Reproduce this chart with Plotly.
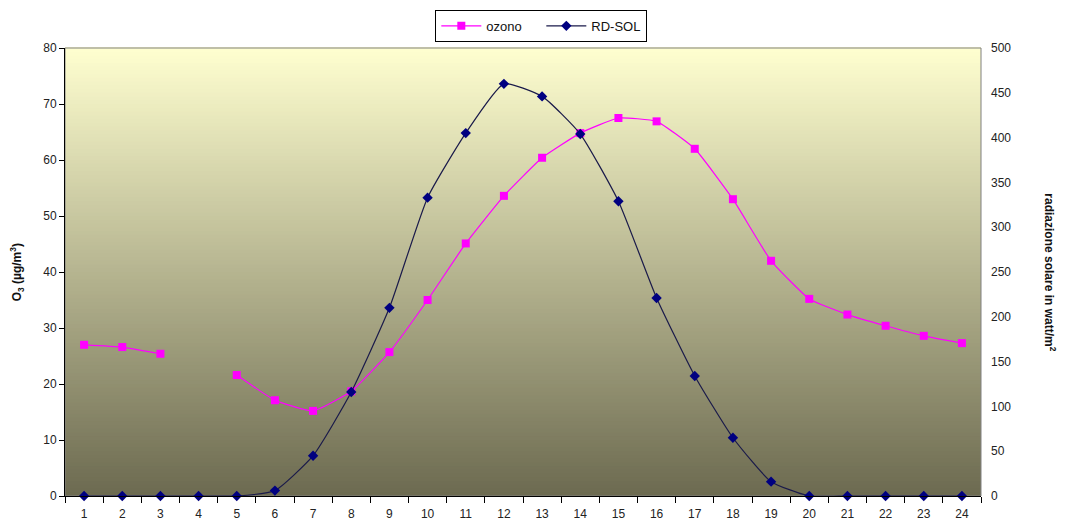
import plotly.graph_objects as go

hours = list(range(1, 25))
ozono = [27.0, 26.6, 25.4, None, 21.6, 17.1, 15.2, 18.7, 25.7, 35.0, 45.1, 53.6,
         60.4, 64.8, 67.5, 66.9, 62.0, 53.0, 42.0, 35.2, 32.4, 30.4, 28.6, 27.3]
rd_sol = [0, 0, 0, 0, 0, 6, 45, 116, 210, 333, 405, 460,
          446, 404, 329, 221, 134, 65, 16, 0, 0, 0, 0, 0]
left_ticks = list(range(0, 90, 10))
right_ticks = list(range(0, 550, 50))

fig = go.Figure()
fig.add_trace(go.Scatter(
    x=hours, y=ozono, name="ozono", mode="lines+markers",
    line=dict(color="#FF00FF", width=1.2, shape="spline", smoothing=0.4),
    marker=dict(symbol="square", size=8, color="#FF00FF"),
    connectgaps=False, cliponaxis=False, yaxis="y"))
fig.add_trace(go.Scatter(
    x=hours, y=rd_sol, name="RD-SOL", mode="lines+markers",
    line=dict(color="#1A1A4A", width=1.2, shape="spline", smoothing=0.5),
    marker=dict(symbol="diamond", size=8, color="#000080"),
    cliponaxis=False, yaxis="y2"))

# vertical gradient background
N = 120
top = (255, 255, 208)
bot = (108, 106, 80)
shapes = []
for i in range(N):
    t = (i + 0.5) / N
    c = tuple(int(round(bot[k] + (top[k] - bot[k]) * t)) for k in range(3))
    shapes.append(dict(type="rect", xref="x domain", yref="y domain",
                       x0=0, x1=1, y0=i / N, y1=(i + 1) / N + 0.002,
                       fillcolor="rgb(%d,%d,%d)" % c, line=dict(width=0),
                       layer="below"))
# plot-area border (right / top)
shapes.append(dict(type="rect", xref="x domain", yref="y domain", x0=0, x1=1, y0=0, y1=1,
                   line=dict(color="#808080", width=1), layer="below"))

font = "Liberation Sans, Arial, sans-serif"
fig.update_layout(
    width=1065, height=523,
    margin=dict(l=65, r=84, t=48, b=27, autoexpand=False),
    paper_bgcolor="white", plot_bgcolor="#DDDDB0",
    font=dict(family=font, size=12, color="#222222"),
    shapes=shapes,
    showlegend=True,
    legend=dict(orientation="h", x=0.52, xanchor="center", y=1.085, yanchor="top",
                bordercolor="black", borderwidth=1, bgcolor="white",
                font=dict(size=13, color="#111111"), itemwidth=40,
                entrywidth=50, tracegroupgap=0),
    xaxis=dict(range=[0.5, 24.5], tickmode="array", tickvals=hours,
               ticktext=[str(h) for h in hours], ticks="", showgrid=False,
               showline=True, linecolor="black", linewidth=1, zeroline=False,
               automargin=False, ticklabelstandoff=7,
               minor=dict(tickmode="array", tickvals=[h + 0.5 for h in range(0, 25)],
                          ticks="outside", ticklen=6, tickcolor="black", showgrid=False),
               tickfont=dict(size=12)),
    yaxis=dict(range=[0, 80], tickmode="array", tickvals=left_ticks, ticks="outside",
               ticklen=5, tickcolor="black", showgrid=False, showline=True,
               linecolor="black", linewidth=1, zeroline=False, automargin=False,
               tickfont=dict(size=12)),
    yaxis2=dict(range=[0, 500], tickmode="array", tickvals=right_ticks, overlaying="y",
                side="right", ticks="", showgrid=False, showline=False, zeroline=False,
                automargin=False, tickfont=dict(size=12), ticklabelstandoff=9),
    annotations=[
        dict(text="<b>O<sub>3</sub> (µg/m<sup>3</sup>)</b>", xref="paper", yref="paper",
             x=-0.052, y=0.5, xanchor="center", yanchor="middle", textangle=-90,
             showarrow=False, font=dict(size=12, color="#111111")),
        dict(text="<b>radiazione solare in watt/m<sup>2</sup></b>", xref="paper", yref="paper",
             x=1.075, y=0.5, xanchor="center", yanchor="middle", textangle=90,
             showarrow=False, font=dict(size=12, color="#111111")),
    ],
)

fig.write_html("out.html")
